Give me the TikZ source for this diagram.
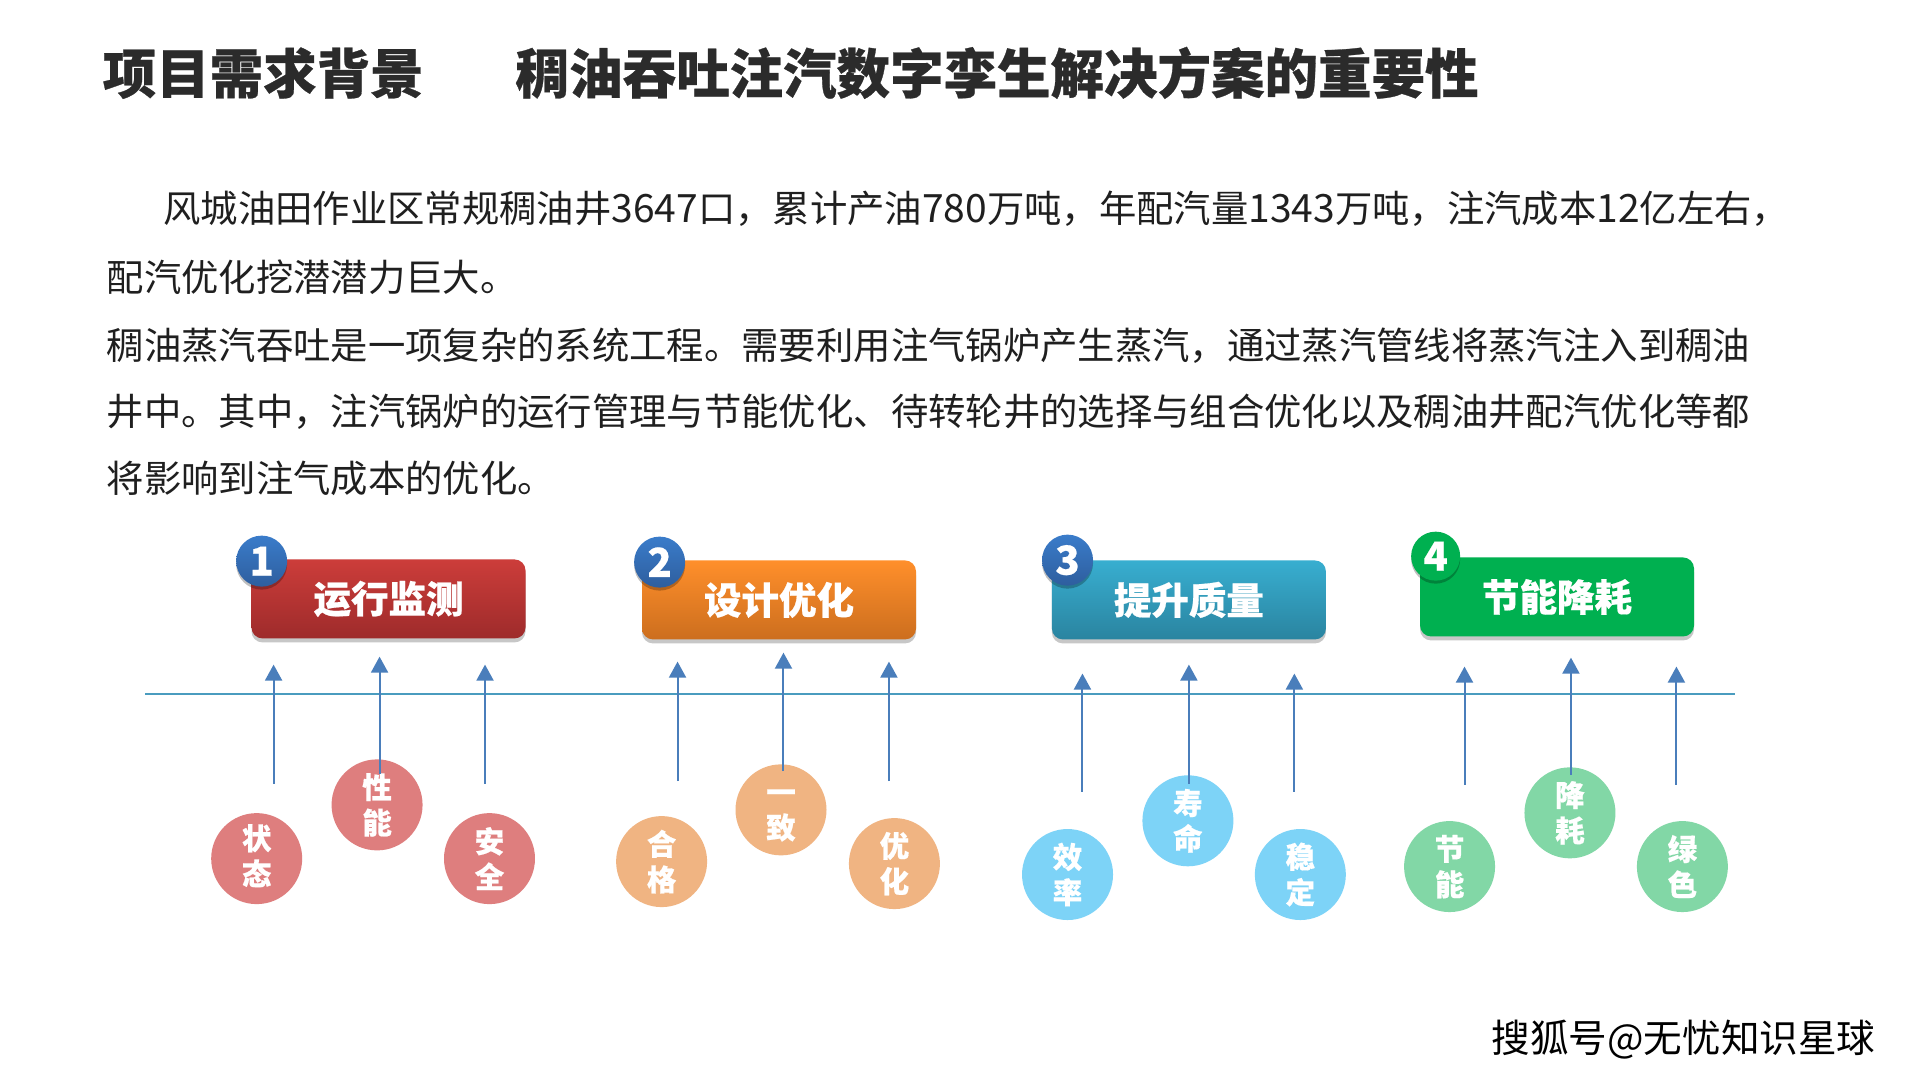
\documentclass[tikz,border=0pt]{standalone}
\usepackage{fontspec}
\setmainfont{Noto Sans CJK SC}[BoldFeatures={FakeBold=0.5}]
\usetikzlibrary{arrows.meta,shadows}
\newcommand{\dg}[1]{{\fontsize{39}{44}\selectfont #1}}
\tikzset{
  x=0.9949pt,y=-0.9949pt,
  titletext/.style={anchor=base west,inner sep=0pt,text=black!83,font=\bfseries\fontsize{53.5}{60}\selectfont},
  bodytext/.style={anchor=base west,inner sep=0pt,text=black!88,font=\fontsize{37.35}{44}\selectfont},
  headbox/.style={rounded corners=11pt,minimum width=274pt,minimum height=79pt,inner sep=0pt,text=white,
    font=\bfseries\fontsize{37.5}{44}\selectfont,
    drop shadow={shadow xshift=0pt,shadow yshift=-4pt,opacity=.22,fill=black}},
  redbox/.style={headbox,top color=red1,bottom color=red2},
  orangebox/.style={headbox,top color=ora1,bottom color=ora2},
  bluebox/.style={headbox,top color=blu1,bottom color=blu2},
  greenbox/.style={headbox,fill=gre1},
  badge/.style={circle,minimum size=51pt,inner sep=0pt,text=white,top color=bad1,bottom color=bad2,
    font=\bfseries\fontsize{40}{44}\selectfont,
    drop shadow={shadow xshift=0pt,shadow yshift=-3pt,opacity=.25,fill=black}},
  greenbadge/.style={circle,minimum size=49pt,inner sep=0pt,text=white,fill=gre1,
    font=\bfseries\fontsize{40}{44}\selectfont,
    drop shadow={shadow xshift=0pt,shadow yshift=-3pt,opacity=.25,fill=black}},
  leaf/.style={circle,minimum size=91pt,inner sep=0pt,text=white,align=center,
    font=\bfseries\fontsize{29.5}{35.5}\selectfont},
  axisline/.style={draw=axisc,line width=2pt},
  riser/.style={draw=arrc,line width=2pt,-{Triangle[length=16pt,width=17pt]}},
}
\definecolor{red1}{HTML}{CC3D3A}\definecolor{red2}{HTML}{9E2B2B}
\definecolor{ora1}{HTML}{FF8F2B}\definecolor{ora2}{HTML}{CC6E1E}
\definecolor{blu1}{HTML}{38AED0}\definecolor{blu2}{HTML}{2A84A0}
\definecolor{gre1}{HTML}{00B050}
\definecolor{bad1}{HTML}{3A7CCA}\definecolor{bad2}{HTML}{2E5E9E}
\definecolor{lred}{HTML}{DE7E7E}\definecolor{lora}{HTML}{F0B482}
\definecolor{lblu}{HTML}{7DD3F7}\definecolor{lgre}{HTML}{82D7A6}
\definecolor{axisc}{HTML}{4A9CBF}\definecolor{arrc}{HTML}{4A7EBB}
\newcommand{\Leaf}[9]{%
  \node[leaf,fill=#4] (c#1) at (#2,#3) {#5\\#6};
  \coordinate (s#1) at (#7,#9);
  \coordinate (t#1) at (#7,#8);
  \draw[riser] (s#1) -- (t#1);
}
\begin{document}
\begin{tikzpicture}
\useasboundingbox[fill=white] (0pt,0pt) rectangle (1920pt,-1080pt);
\node[titletext] (t1) at (103,94) {项目需求背景};
\node[titletext] (t2) at (518,94) {稠油吞吐注汽数字孪生解决方案的重要性};
\node[bodytext] (l1) at (164,224) {风城油田作业区常规稠油井\dg{3647}口，累计产油\dg{780}万吨，年配汽量\dg{1343}万吨，注汽成本\dg{12}亿左右，};
\node[bodytext] (l2) at (107,293) {配汽优化挖潜潜力巨大。};
\node[bodytext] (l3) at (107,361) {稠油蒸汽吞吐是一项复杂的系统工程。需要利用注气锅炉产生蒸汽，通过蒸汽管线将蒸汽注入到稠油};
\node[bodytext] (l4) at (107,428) {井中。其中，注汽锅炉的运行管理与节能优化、待转轮井的选择与组合优化以及稠油井配汽优化等都};
\node[bodytext] (l5) at (107,495) {将影响到注气成本的优化。};

\node[redbox] (b1) at (390.5,602) {运行监测};
\node[orangebox] (b2) at (783,603) {设计优化};
\node[bluebox] (b3) at (1195,603) {提升质量};
\node[greenbox] (b4) at (1565,600) {节能降耗};
\node[badge] (n1) at (263,564) {1};
\node[badge] (n2) at (663,565) {2};
\node[badge] (n3) at (1073,563) {3};
\node[greenbadge] (n4) at (1443,559) {4};

\coordinate (axL) at (146,698);
\coordinate (axR) at (1744,698);
\draw[axisline] (axL) -- (axR);

\Leaf{a}{258}{863}{lred}{状}{态\rule[-8pt]{0pt}{0pt}}{275}{668}{788}
\Leaf{b}{379}{809}{lred}{性}{能}{381.5}{660}{778}
\Leaf{c}{492}{863}{lred}{安}{全}{487.5}{668}{788}
\Leaf{d}{665}{866}{lora}{合}{格}{681}{665}{785}
\Leaf{e}{785}{814}{lora}{\rule{0pt}{25pt}一}{致}{787.5}{656}{775}
\Leaf{f}{899}{868}{lora}{优}{化}{893.5}{665}{785}
\Leaf{g}{1073}{879}{lblu}{效}{率}{1088}{677}{796}
\Leaf{h}{1194}{825}{lblu}{寿}{命}{1195}{668}{788}
\Leaf{i}{1307}{879}{lblu}{稳}{定}{1301}{677}{796}
\Leaf{j}{1457}{871}{lgre}{节}{能}{1472}{670}{789}
\Leaf{k}{1578}{817}{lgre}{降}{耗}{1579}{661}{779}
\Leaf{m}{1691}{871}{lgre}{绿}{色}{1685}{670}{789}

\node[anchor=base west,inner sep=0pt,font=\fontsize{38.6}{44}\selectfont,text=black] (wm) at (1499,1058) {搜狐号@无忧知识星球};
\end{tikzpicture}
\end{document}
